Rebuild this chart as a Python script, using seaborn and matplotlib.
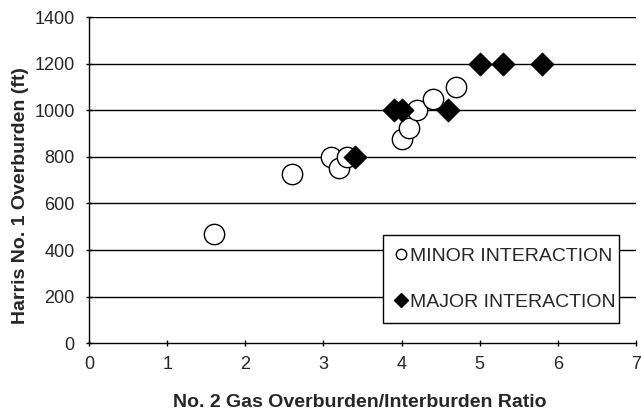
import pandas as pd
import matplotlib.pyplot as plt
import seaborn as sns
from matplotlib.lines import Line2D

# valores
minor_x = [1.6, 2.6, 3.1, 3.2, 3.3, 4.0, 4.1, 4.2, 4.4, 4.7]
minor_y = [470, 725, 800, 750, 800, 875, 925, 1000, 1050, 1100]
major_x = [3.4, 3.9, 4.0, 4.6, 5.0, 5.3, 5.8]
major_y = [800, 1000, 1000, 1000, 1200, 1200, 1200]
y_ticks = [0, 200, 400, 600, 800, 1000, 1200, 1400]
x_ticks = [0, 1, 2, 3, 4, 5, 6, 7]

df = pd.concat([
    pd.DataFrame({'ratio': minor_x, 'overburden': minor_y, 'tipo': 'MINOR INTERACTION'}),
    pd.DataFrame({'ratio': major_x, 'overburden': major_y, 'tipo': 'MAJOR INTERACTION'}),
])

sns.set_style('white')
plt.rcParams['font.family'] = ['Liberation Sans', 'DejaVu Sans']

fig = plt.figure(figsize=(6.41, 4.15), dpi=100)
ax = fig.add_axes([0.139, 0.173, 0.853, 0.786])

for y in y_ticks[1:]:
    ax.axhline(y, color='black', lw=1, zorder=0)

sns.scatterplot(data=df[df['tipo'] == 'MINOR INTERACTION'], x='ratio', y='overburden',
                marker='o', s=215, facecolor='white', edgecolor='black', linewidth=1,
                ax=ax, zorder=3)
sns.scatterplot(data=df[df['tipo'] == 'MAJOR INTERACTION'], x='ratio', y='overburden',
                marker='D', s=130, color='black', edgecolor='black', linewidth=1,
                ax=ax, zorder=4)

ax.set_xlim(0, 7)
ax.set_ylim(0, 1400)
ax.set_xticks(x_ticks)
ax.set_yticks(y_ticks)
ax.tick_params(axis='both', labelsize=13, length=5, direction='inout', width=1,
               bottom=True, left=True, color='black')
ax.tick_params(axis='x', pad=7)
ax.tick_params(axis='y', pad=8)
for s in ['top', 'right']:
    ax.spines[s].set_visible(False)
for s in ['left', 'bottom']:
    ax.spines[s].set_color('black')
    ax.spines[s].set_linewidth(1)

ax.set_xlabel('No. 2 Gas Overburden/Interburden Ratio', fontsize=14, fontweight='bold')
ax.set_ylabel('Harris No. 1 Overburden (ft)', fontsize=14, fontweight='bold')
ax.xaxis.set_label_coords(0.495, -0.155)
ax.yaxis.set_label_coords(-0.11, 0.454)

handles = [
    Line2D([], [], marker='o', ls='', markersize=7.5, markerfacecolor='white', markeredgecolor='black'),
    Line2D([], [], marker='D', ls='', markersize=7, markerfacecolor='black', markeredgecolor='black'),
]
leg = ax.legend(handles, ['MINOR INTERACTION', 'MAJOR INTERACTION'],
                loc='lower left', bbox_to_anchor=(0.537, 0.061, 0.432, 0.273), mode='expand',
                fontsize=14, frameon=True, fancybox=False, borderpad=0.65, labelspacing=1.45,
                handletextpad=0.15, handlelength=0.6, borderaxespad=0)
leg.get_frame().set_edgecolor('black')
leg.get_frame().set_linewidth(1)
leg.get_frame().set_alpha(1)

plt.savefig('out.png', dpi=100)
plt.close()
